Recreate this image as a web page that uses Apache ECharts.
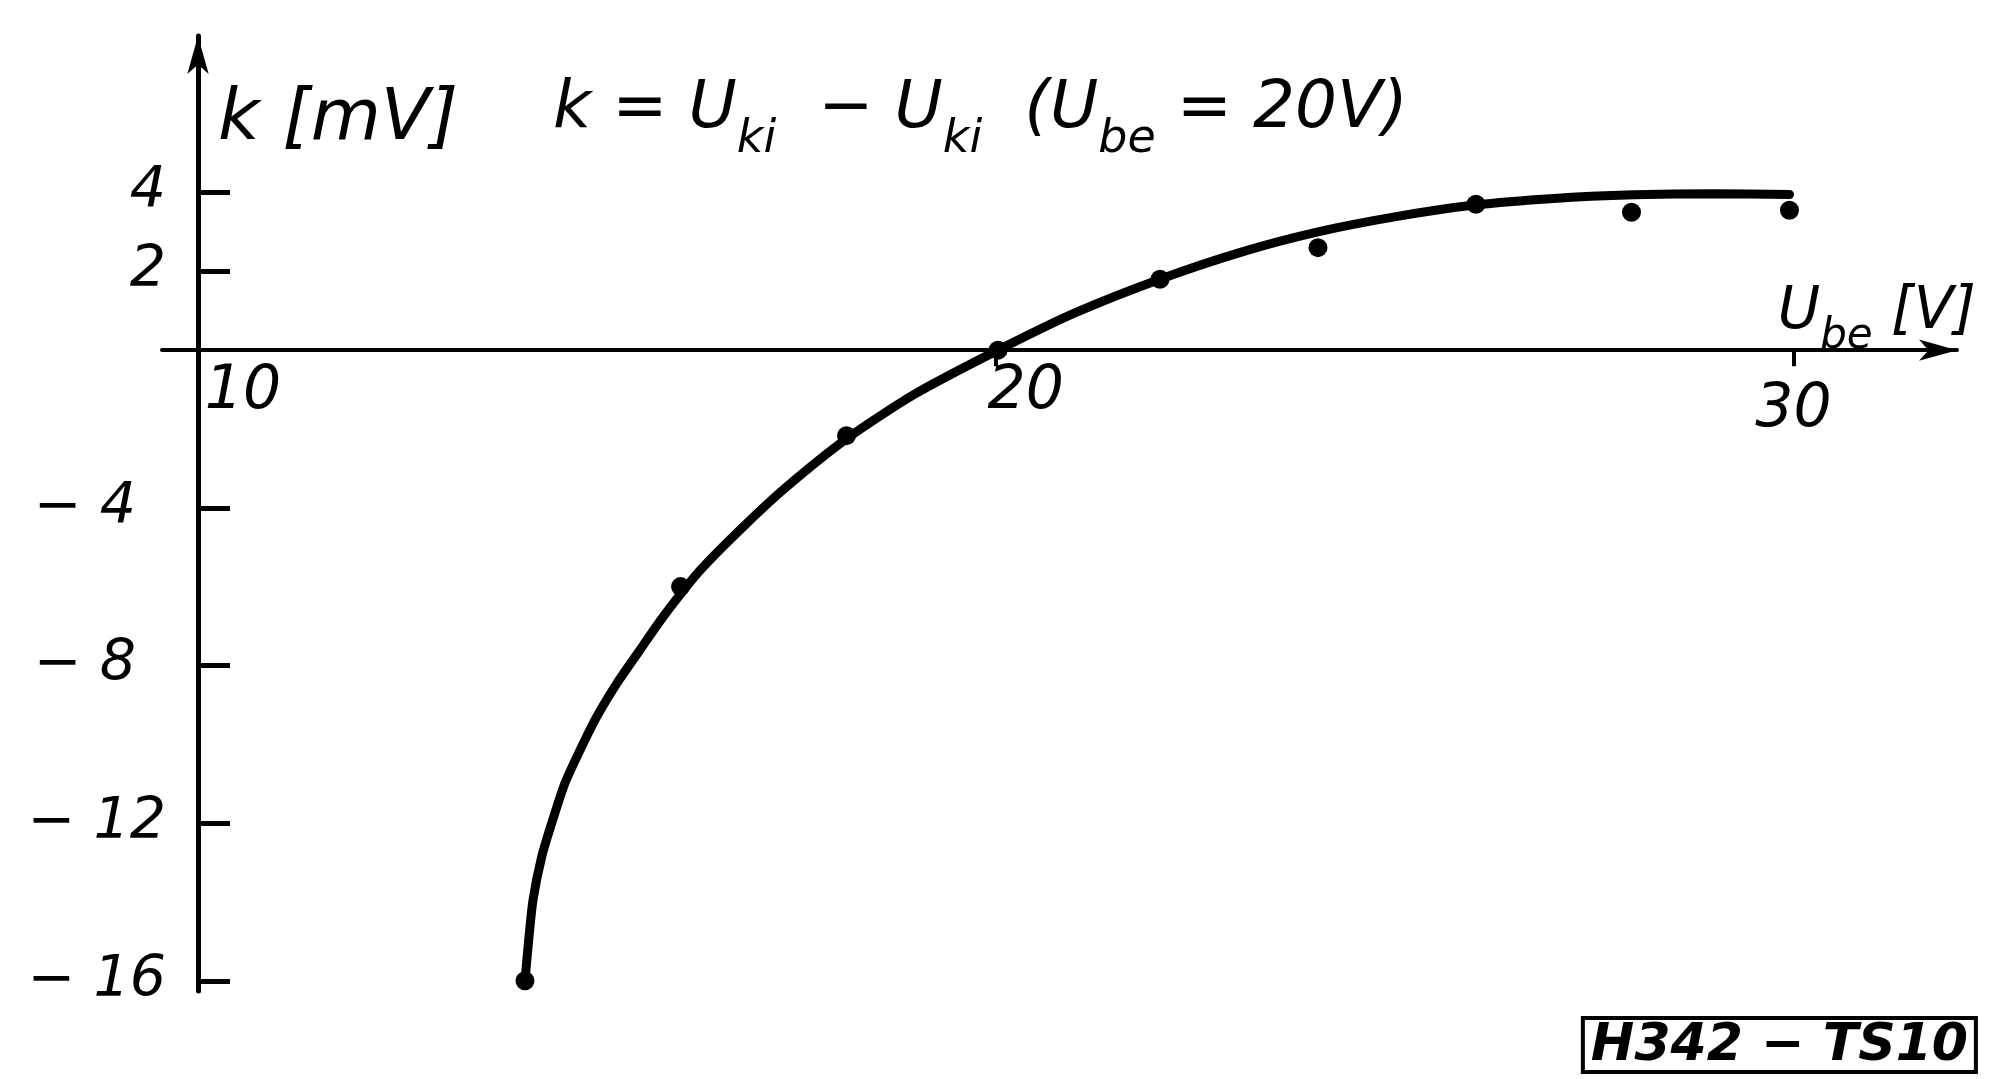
<!DOCTYPE html>
<html>
<head>
<meta charset="utf-8">
<script src="https://cdn.jsdelivr.net/npm/echarts@6/dist/echarts.min.js"></script>
<style>
  html, body { margin: 0; padding: 0; background: #fff; }
  #chart { width: 2005px; height: 1079px; }
</style>
</head>
<body>
<div id="chart"></div>
<script>
// measured points (U_be [V], k [mV])
const pointX = [14.1, 16.05, 18.13, 20.03, 22.06, 24.04, 26.02, 27.97, 29.95]
const pointY = [-16.0, -6.0, -2.17, 0, 1.8, 2.6, 3.7, 3.5, 3.55]

// hand drawn curve
const curveX = [14.10, 14.14, 14.20, 14.31, 14.46, 14.60, 14.79, 15.00, 15.25, 15.54, 15.83, 16.29, 16.80,
  17.36, 18.13, 19.0, 20.03, 21.0, 22.06, 23.1, 24.04, 25.0, 26.0, 27.0, 28.0, 29.0, 29.95]
const curveY = [-16.0, -15.1, -13.96, -12.85, -11.84, -10.99, -10.15, -9.30, -8.46, -7.61, -6.77, -5.6, -4.55,
  -3.5, -2.25, -1.1, 0, 0.95, 1.8, 2.5, 3.0, 3.38, 3.68, 3.85, 3.94, 3.97, 3.95]

const yTicks = [4, 2, -4, -8, -12, -16]
const xTicks = [20, 30]
const xLabels = [10, 20, 30]

const xMin = 9.55, xMax = 32.05
const yMin = -16.26, yMax = 7.97
const gridTop = 36, gridBottom = 88
const gridH = 1079 - gridTop - gridBottom
// the x axis is drawn through k = 0
const zeroOffset = gridH * (0 - yMin) / (yMax - yMin)

const font = 'DejaVu Sans'
const zip = (xs, ys) => xs.map((x, i) => [x, ys[i]])
const subStyle = size => ({ fontFamily: font, fontStyle: 'italic', fontSize: size, lineHeight: size, verticalAlign: 'bottom', color: '#000' })

var myChart = echarts.init(document.getElementById('chart'))
const option = {
    animation: false,
    backgroundColor: '#fff',
    title: [{
        left: 548,
        top: 52,
        text: 'k = U{sub|ki}  − U{sub|ki}  (U{sub|be} = 20V)',
        textStyle: {
            fontFamily: font, fontStyle: 'italic', fontWeight: 'normal', color: '#000',
            fontSize: 66, lineHeight: 106,
            rich: { sub: subStyle(46) }
        }
    }, {
        right: 29,
        bottom: 7,
        text: 'H342 − TS10',
        padding: [2, 8, 0, 8],
        borderColor: '#000',
        borderWidth: 4,
        textStyle: { fontFamily: font, fontStyle: 'italic', fontWeight: 'bold', fontSize: 52, color: '#000' }
    }],
    grid: { left: 162, right: 48, top: gridTop, bottom: gridBottom },
    xAxis: {
        type: 'value',
        min: xMin,
        max: xMax,
        position: 'bottom',
        offset: -zeroOffset,
        name: 'U{sub|be} [V]',
        nameLocation: 'end',
        nameGap: 19,
        nameTextStyle: {
            fontFamily: font, fontStyle: 'italic', fontSize: 58, color: '#000',
            align: 'right', verticalAlign: 'bottom', lineHeight: 90, padding: [0, 0, -8, 0],
            rich: { sub: subStyle(42) }
        },
        axisLine: { onZero: false, symbol: ['none', 'arrow'], symbolSize: [16, 38], lineStyle: { color: '#000', width: 4 } },
        axisTick: { show: true, customValues: xTicks, length: 16, lineStyle: { color: '#000', width: 4 } },
        axisLabel: {
            customValues: xLabels, margin: 12, color: '#000',
            fontFamily: font, fontStyle: 'italic', fontSize: 60,
            formatter: v => `{l${v}|${v}}`,
            rich: {
                l10: { padding: [0, 0, 0, 90] },
                l20: { padding: [0, 0, 0, 60] },
                l30: { padding: [18, 0, 0, 0] }
            }
        },
        splitLine: { show: false }
    },
    yAxis: {
        type: 'value',
        min: yMin,
        max: yMax,
        offset: -36,
        name: 'k [mV]',
        nameLocation: 'end',
        nameGap: -48,
        nameTextStyle: {
            fontFamily: font, fontStyle: 'italic', fontSize: 72, color: '#000',
            align: 'left', verticalAlign: 'top', padding: [0, 0, 0, 20]
        },
        axisLine: { show: true, symbol: ['none', 'arrow'], symbolSize: [16, 38], lineStyle: { color: '#000', width: 5 } },
        axisTick: { show: true, inside: true, customValues: yTicks, length: 32, lineStyle: { color: '#000', width: 5 } },
        axisLabel: {
            customValues: yTicks, margin: 32, color: '#000',
            fontFamily: font, fontStyle: 'italic', fontSize: 57,
            formatter: v => {
                if (v >= 0) return String(v)
                const s = '\u2212 ' + Math.abs(v)
                return v > -10 ? `{short|${s}}` : s
            },
            rich: { short: { padding: [0, 30, 0, 0] } }
        },
        splitLine: { show: false }
    },
    series: [{
        type: 'line',
        data: zip(curveX, curveY),
        smooth: 0.25,
        showSymbol: false,
        lineStyle: { color: '#000', width: 9, cap: 'round' }
    }, {
        type: 'scatter',
        data: zip(pointX, pointY),
        symbol: 'circle',
        symbolSize: 19,
        itemStyle: { color: '#000', opacity: 1 }
    }]
}
myChart.setOption(option)
</script>
</body>
</html>
